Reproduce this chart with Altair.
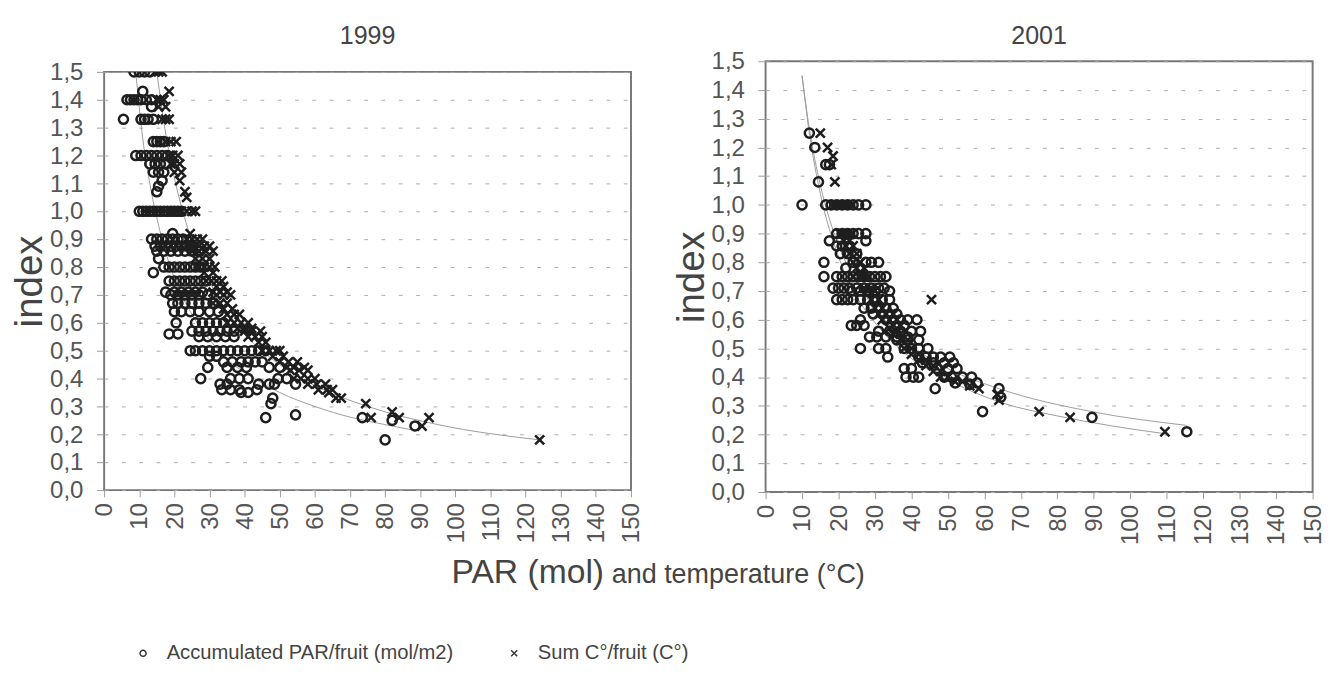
import altair as alt
import pandas as pd

FONT = "Liberation Sans, Arial, Helvetica, sans-serif"
SERIES = ["Accumulated PAR/fruit (mol/m2)", "Sum C°/fruit (C°)"]
CROSS = "M-1,-1L1,1M-1,1L1,-1"

# ---------------- 1999 : accumulated PAR per fruit (circles) ----------------
p99_levels = [1.5, 1.43, 1.4, 1.375, 1.33, 1.25, 1.2, 1.17, 1.14, 1.11, 1.09, 1.07, 1.0,
              0.92, 0.9, 0.875, 0.857, 0.83, 0.8, 0.78, 0.75, 0.71, 0.7, 0.67, 0.64, 0.6,
              0.57, 0.56, 0.55, 0.5, 0.48, 0.46, 0.44, 0.4, 0.38, 0.36, 0.35, 0.33, 0.31,
              0.27, 0.26, 0.25, 0.23, 0.18]
p99_xs = [
    [8.5, 10, 11.5, 13], [11], [6.5, 7.5, 8.5, 9.5, 10.5, 12, 13.5], [13.5],
    [5.5, 10.5, 11.5, 12.5, 14], [14, 15, 16, 17], [9, 10.5, 12, 13.5, 15, 16.5, 18],
    [13, 14.5, 16, 17.5], [14, 15.5, 17], [16.5], [15.5], [15],
    [10, 11, 12, 13, 14, 15, 16, 17, 18, 19, 20, 21, 22],
    [19.5], [13.5, 15, 16.5, 18, 19.5, 21, 22.5], [14.5, 16, 17.5, 19, 20.5, 22, 23.5, 25],
    [15, 17, 19, 21, 23, 25, 27], [15.5], [17, 18.5, 20, 21.5, 23, 24.5, 26, 27.5], [14],
    [18.5, 20, 21.5, 23, 24.5, 26, 27.5, 29], [17.5, 20, 22, 24, 26, 28],
    [19, 21, 23, 25, 27, 29.5], [19.5, 21, 23, 25, 27, 29, 31], [20, 22, 24.5, 27, 30, 32.5],
    [20.5, 26, 28, 30, 32, 34], [25, 27, 29, 31, 33, 35, 37], [18.5, 21],
    [27, 29.5, 32, 34.5, 37], [24.5, 26, 28, 30, 32, 34, 36, 38, 40, 42, 44, 46], [30, 32],
    [34, 36.5, 39, 41, 43, 45], [29.5, 35, 38, 40.5, 47, 50], [27.5, 36, 38.5, 41, 49.5, 52],
    [33, 35, 44, 47, 48.5, 54.5], [33.5, 36, 38.5, 43.5], [39, 41], [48], [47.5],
    [54.5], [46, 73.5], [82], [88.5], [80],
]

# ---------------- 1999 : temperature sum per fruit (crosses) ----------------
t99_levels = [1.5, 1.43, 1.4, 1.375, 1.33, 1.25, 1.2, 1.17, 1.14, 1.11, 1.07, 1.05, 1.0,
              0.92, 0.9, 0.875, 0.857, 0.83, 0.8, 0.78, 0.75, 0.73, 0.71, 0.7, 0.67, 0.65,
              0.63, 0.6, 0.58, 0.57, 0.55, 0.53, 0.5, 0.48, 0.46, 0.44, 0.43, 0.4, 0.38,
              0.36, 0.35, 0.33, 0.31, 0.28, 0.26, 0.23, 0.18]
t99_xs = [
    [14.5, 15.5, 16.5], [18.5], [15, 16, 17], [15.5, 17.5], [16.5, 17.5, 18.5],
    [17.5, 19, 20.5], [18.5, 19.5, 21], [19, 20, 21.5], [20, 22], [21.5], [23], [23.5],
    [19, 20.5, 22, 23.5, 25, 26], [24.5], [23.5, 25, 26.5, 28], [24, 25.5, 27, 28.5, 30],
    [25, 27, 29, 31], [26, 28, 30], [27, 28.5, 30, 31.5], [28.5, 31], [29, 30.5, 32, 33.5],
    [32, 34], [31, 33, 35], [32, 34, 36], [31, 33, 35], [34, 36.5], [35, 37, 38.5],
    [35, 37, 39, 41], [38, 40, 42], [40, 42, 44.5], [41, 43, 45], [44, 46],
    [45, 47, 49, 50], [48, 51], [50, 52.5, 55], [52, 54, 57], [53, 55.5, 58],
    [54, 56, 58, 60], [58, 60.5, 63], [61, 63.5, 65], [64], [66, 67.5], [74.5], [82],
    [76, 84, 92.5], [90.5], [124],
]

# ---------------- 2001 : accumulated PAR per fruit (circles) ----------------
p01_levels = [1.25, 1.2, 1.14, 1.08, 1.0, 0.9, 0.875, 0.857, 0.83, 0.8, 0.78, 0.75, 0.71,
              0.7, 0.67, 0.64, 0.62, 0.6, 0.58, 0.56, 0.54, 0.53, 0.5, 0.47, 0.45, 0.43,
              0.4, 0.38, 0.375, 0.36, 0.33, 0.28, 0.26, 0.21]
p01_xs = [
    [12], [13.5], [16.5, 17.5], [14.5], [10, 16.5, 18, 19.5, 21, 22.5, 24, 25.5, 27.5],
    [19.5, 21, 22.5, 24, 25.5, 27.5], [17.5, 27.5], [19.5, 21, 23], [20.5, 22.5, 25],
    [16, 24, 27.5, 29, 31], [22, 26], [16, 19.5, 21, 22.5, 24, 25.5, 27, 28.5, 30, 31.5, 33],
    [18.5, 20, 21.5, 23, 25, 27, 29, 31, 32.5], [23.5, 26, 28, 30, 34],
    [19.5, 21, 22.5, 24, 26, 28, 30, 32, 34], [27, 29, 31, 33, 35], [29.5, 32, 34, 36],
    [26, 33, 35, 37, 39, 41.5], [23.5, 25, 27, 36, 38], [31, 34, 37, 40, 42.5],
    [28.5, 30.5, 33, 36, 39], [36, 39, 42], [26, 31, 33, 38, 40, 42, 44.5],
    [33.5, 42, 44, 46, 48, 50.5], [43, 46, 49, 51.5], [38, 40, 47, 50, 52.5],
    [38.5, 40.5, 42, 49, 51, 54, 56.5], [52, 58], [56], [46.5, 64], [64.5], [59.5],
    [89.5], [115.5],
]

# ---------------- 2001 : temperature sum per fruit (crosses) ----------------
t01_levels = [1.25, 1.2, 1.17, 1.14, 1.08, 1.0, 0.9, 0.875, 0.857, 0.83, 0.8, 0.78, 0.75,
              0.71, 0.7, 0.67, 0.64, 0.62, 0.6, 0.57, 0.55, 0.53, 0.5, 0.48, 0.46, 0.44,
              0.42, 0.4, 0.385, 0.37, 0.36, 0.34, 0.32, 0.28, 0.26, 0.21]
t01_xs = [
    [15], [17], [18.5], [18], [19], [19, 20.5, 22, 23.5], [20.5, 22, 23.5], [21.5, 23],
    [22, 24], [23, 25], [24, 26], [25, 27], [24, 26, 28], [27, 29], [28, 30],
    [29, 31, 45.5], [30, 32], [31, 33], [32, 34], [34, 36], [35, 37], [37, 39], [38, 40],
    [40, 42], [42, 44], [44, 46], [46, 48], [48, 50], [52, 54], [56], [58.5], [63.5],
    [64], [75], [83.5], [109.5],
]

# ---------------- trend curves ----------------
c99_par_x = [9, 11, 13, 16.5, 20, 25, 30, 35, 42.8, 50, 60, 70.5, 80, 88]
c99_par_y = [1.5, 1.26, 1.10, 0.90, 0.76, 0.63, 0.54, 0.47, 0.40, 0.35, 0.30, 0.26, 0.235, 0.215]
c99_tmp_x = [15, 17, 20, 23.3, 27, 32, 40, 50, 60, 75, 95, 124]
c99_tmp_y = [1.5, 1.32, 1.12, 0.96, 0.83, 0.70, 0.56, 0.45, 0.375, 0.30, 0.235, 0.18]
c01_par_x = [10, 12, 15, 20, 25, 30, 40, 50, 64, 89.4, 115.5]
c01_par_y = [1.45, 1.265, 1.07, 0.86, 0.73, 0.64, 0.51, 0.43, 0.36, 0.28, 0.232]
c01_tmp_x = [10, 12, 15, 20, 25, 30, 40, 50, 65, 80, 95, 109]
c01_tmp_y = [1.45, 1.25, 1.04, 0.82, 0.68, 0.59, 0.465, 0.39, 0.31, 0.265, 0.23, 0.204]

Y_TICKS = [0.0, 0.1, 0.2, 0.3, 0.4, 0.5, 0.6, 0.7, 0.8, 0.9, 1.0, 1.1, 1.2, 1.3, 1.4, 1.5]
X_TICKS = [0, 10, 20, 30, 40, 50, 60, 70, 80, 90, 100, 110, 120, 130, 140, 150]
X_TITLE_MAIN = "PAR (mol)"
X_TITLE_REST = "and temperature (°C)"


def expand(panel, series, levels, xs):
    rows = []
    for lv, row in zip(levels, xs):
        for xv in row:
            rows.append({"panel": panel, "series": series, "x": xv, "y": lv})
    return rows


pts = (expand("1999", SERIES[0], p99_levels, p99_xs)
       + expand("1999", SERIES[1], t99_levels, t99_xs)
       + expand("2001", SERIES[0], p01_levels, p01_xs)
       + expand("2001", SERIES[1], t01_levels, t01_xs))
points_df = pd.DataFrame(pts)

crv = []
for panel, series, cx, cy in [("1999", SERIES[0], c99_par_x, c99_par_y),
                              ("1999", SERIES[1], c99_tmp_x, c99_tmp_y),
                              ("2001", SERIES[0], c01_par_x, c01_par_y),
                              ("2001", SERIES[1], c01_tmp_x, c01_tmp_y)]:
    for xv, yv in zip(cx, cy):
        crv.append({"panel": panel, "series": series, "x": xv, "y": yv})
curves_df = pd.DataFrame(crv)

yaxis = alt.Axis(values=Y_TICKS, labelExpr="replace(format(datum.value, '.1f'), '.', ',')",
                 title="index", titleFont=FONT, titleFontSize=40, titleFontWeight="normal",
                 titleColor="#444", titlePadding=0,
                 labelFont=FONT, labelFontSize=25, labelColor="#555", labelPadding=14,
                 tickSize=8, tickColor="#999", tickWidth=1, domain=False,
                 grid=True, gridColor="#aaaaaa", gridDash=[4, 14], gridWidth=1)
xaxis = alt.Axis(values=X_TICKS, labelAngle=270, labelFont=FONT, labelFontSize=25,
                 labelColor="#555", labelPadding=6, tickSize=7, tickColor="#999",
                 domain=False, grid=False, title=None)
legend = alt.Legend(title=None, orient="none", legendX=30, legendY=645, direction="horizontal",
                    columns=2, columnPadding=52, labelFont=FONT, labelFontSize=21,
                    labelColor="#444", labelLimit=600, labelOffset=14, symbolSize=40,
                    symbolStrokeWidth=1.5, symbolStrokeColor="#333", symbolFillColor="transparent")

xs = alt.Scale(domain=[0, 150], nice=False, zero=False)
ys = alt.Scale(domain=[0, 1.5], nice=False)


def panel(name, w, h):
    lines = alt.Chart(curves_df).transform_filter(alt.datum.panel == name).mark_line(
        color="#9a9a9a", strokeWidth=1, interpolate="monotone", clip=True
    ).encode(x=alt.X("x:Q", scale=xs, axis=xaxis), y=alt.Y("y:Q", scale=ys, axis=yaxis),
             detail="series:N")
    marks = alt.Chart(points_df).transform_filter(alt.datum.panel == name).mark_point(
        filled=False, strokeWidth=2.6, size=90, color="#1e1e1e", opacity=1, clip=True
    ).encode(x=alt.X("x:Q", scale=xs, axis=xaxis), y=alt.Y("y:Q", scale=ys, axis=yaxis),
             shape=alt.Shape("series:N", scale=alt.Scale(domain=SERIES, range=["circle", CROSS]),
                             legend=legend))
    return alt.layer(lines, marks).properties(
        width=w, height=h, view=alt.ViewBackground(stroke="#777", strokeWidth=2))


def title_strip(name, w, h):
    # panel heading drawn as text in a strip above each panel
    return alt.Chart(pd.DataFrame({"t": [name]})).mark_text(
        font=FONT, fontSize=26, color="#444", align="center", baseline="middle"
    ).encode(text="t:N", x=alt.value(w / 2), y=alt.value(14)).properties(
        width=w, height=h, view=alt.ViewBackground(stroke=None))


LW, LH = 548, 435
RW, RH = 569, 448
left = alt.vconcat(title_strip("1999", LW, 38), panel("1999", LW, LH), spacing=0)
right = alt.vconcat(title_strip("2001", RW, 26), panel("2001", RW, RH), spacing=0)

t1 = alt.Chart(pd.DataFrame({"t": [X_TITLE_MAIN]})).mark_text(
    font=FONT, fontSize=35, color="#444", align="right", baseline="alphabetic"
).encode(text="t:N", x=alt.value(520), y=alt.value(31))
t2 = alt.Chart(pd.DataFrame({"t": [X_TITLE_REST]})).mark_text(
    font=FONT, fontSize=28, color="#444", align="left", baseline="alphabetic"
).encode(text="t:N", x=alt.value(528), y=alt.value(31))
xtitle = alt.layer(t1, t2).properties(width=1100, height=40,
                                      view=alt.ViewBackground(stroke=None))

chart = alt.vconcat(
    alt.hconcat(left, right, spacing=28),
    xtitle, spacing=8
).properties(padding={"left": 2, "top": 2, "right": 2, "bottom": 2}
).configure(font=FONT)

chart.save("out.html", embed_options={"renderer": "svg", "actions": False})
